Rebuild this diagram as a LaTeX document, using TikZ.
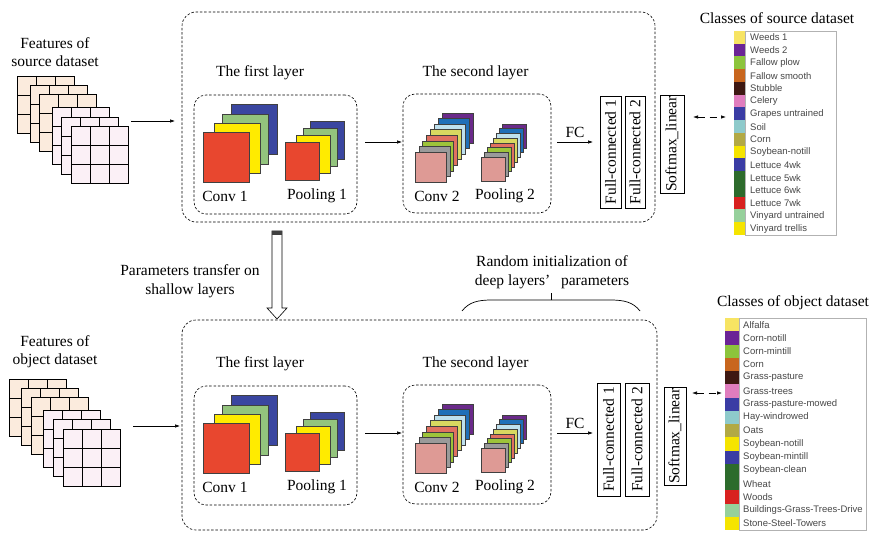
\documentclass[tikz,border=0pt]{standalone}
\usepackage{fontspec}
\setmainfont{Liberation Serif}
\newfontfamily\legfont{Liberation Sans}
\usetikzlibrary{arrows.meta}
\definecolor{cRed}{HTML}{E8472F}
\definecolor{cYellow}{HTML}{FFEB00}
\definecolor{cGreen}{HTML}{93C47D}
\definecolor{cBlue}{HTML}{3A46A0}
\definecolor{cPurple}{HTML}{6A2A8A}
\definecolor{cBlueB}{HTML}{1F6FB8}
\definecolor{cLBlue}{HTML}{BEE0EE}
\definecolor{cKhaki}{HTML}{D8D860}
\definecolor{cSalmon}{HTML}{E07060}
\definecolor{cYG}{HTML}{9DC43A}
\definecolor{cGray}{HTML}{9A9A9A}
\definecolor{cPink}{HTML}{DE9A95}
\definecolor{gPeach}{HTML}{FBEBDD}
\definecolor{gPink}{HTML}{FBF0F6}
\definecolor{lY}{HTML}{F7E463}
\definecolor{lPurple}{HTML}{6B2496}
\definecolor{lYG}{HTML}{8CC43C}
\definecolor{lOrange}{HTML}{C8661E}
\definecolor{lBrown}{HTML}{3E1812}
\definecolor{lPink}{HTML}{E07DBE}
\definecolor{lBlue}{HTML}{3A3CA4}
\definecolor{lTeal}{HTML}{8ECACB}
\definecolor{lOlive}{HTML}{B2A944}
\definecolor{lYellow}{HTML}{F5E400}
\definecolor{lGreen}{HTML}{2D6B2C}
\definecolor{lRed}{HTML}{D8211F}
\definecolor{lLGreen}{HTML}{96D09B}
\tikzset{
  lbl/.style={inner sep=0pt, font=\fontsize{15.5}{17}\selectfont},
  outerbox/.style={draw, dash pattern=on 2.5pt off 1.8pt, rounded corners=14pt, line width=0.6pt, inner sep=0pt},
  innerbox/.style={draw, dash pattern=on 2.5pt off 1.8pt, rounded corners=12pt, line width=0.6pt, inner sep=0pt},
  fcbox/.style={draw, line width=0.8pt, rotate=90, inner sep=0pt, font=\fontsize{15.5}{17}\selectfont},
  arr/.style={-{Latex[length=5pt,width=3.5pt]}, line width=0.6pt},
  darr/.style={{Latex[length=5pt,width=3.5pt]}-{Latex[length=5pt,width=3.5pt]}, dash pattern=on 7pt off 5pt, line width=0.7pt},
  sq/.style={draw=black!75, line width=0.6pt},
  gridsq/.style={draw, line width=0.8pt},
  legtext/.style={inner sep=0pt, anchor=west, text=black!72, font=\legfont\fontsize{9.5}{10}\selectfont},
  legbox/.style={draw=black!30, line width=0.6pt, inner sep=0pt}
}
\newcommand\layerset[1]{%
  % first layer
  \node[innerbox, minimum width=163pt, minimum height=119pt] (l1#1) at (275.5,154.5) {};
  \node[lbl] (t1#1) at (260,73) {The first layer};
  \foreach \c/\px/\py in {cBlue/231/104, cGreen/222/114, cYellow/214/123, cRed/203/132}
    {\filldraw[sq, fill=\c] (\px,\py) rectangle +(46,50);}
  \foreach \c/\px/\py in {cBlue/310/121, cGreen/303/128, cYellow/296/135, cRed/285/142}
    {\filldraw[sq, fill=\c] (\px,\py) rectangle +(34,38);}
  \node[lbl] (c1#1) at (225,196) {Conv 1};
  \node[lbl] (p1#1) at (317,196) {Pooling 1};
  % second layer
  \node[innerbox, minimum width=148pt, minimum height=119pt] (l2#1) at (477,153.5) {};
  \node[lbl] (t2#1) at (475.5,73) {The second layer};
  \foreach \c [count=\i from 0] in {cPurple, cBlueB, cLBlue, cKhaki, cSalmon, cYG, cGray, cPink}
    {\filldraw[sq, fill=\c] ({442-\i*3.86},{113+\i*5.57}) rectangle +(31,30);}
  \foreach \c [count=\i from 0] in {cPurple, cBlueB, cLBlue, cKhaki, cSalmon, cYG, cGray, cPink}
    {\filldraw[sq, fill=\c] ({502-\i*3},{124+\i*4.71}) rectangle +(24,24);}
  \node[lbl] (c2#1) at (437,196) {Conv 2};
  \node[lbl] (p2#1) at (505,196) {Pooling 2};
  \coordinate (m1#1) at (365,142);
  \coordinate (m2#1) at (402,142);
  \draw[arr] (m1#1) -- (m2#1);
  \node[lbl] (fc#1) at (575,132) {FC};
  \coordinate (f1#1) at (557,142);
  \coordinate (f2#1) at (593,142);
  \draw[arr] (f1#1) -- (f2#1);
}
\begin{document}
\begin{tikzpicture}[x=1pt,y=-1pt]
\useasboundingbox[fill=white] (0,0) rectangle (874,534);

% ---------- source branch ----------
\node[lbl, align=center] (fsrc) at (55,52) {Features of\\[1pt]source dataset};
\foreach \px/\py/\c in {17/76/gPeach, 30/85/gPeach, 39/94/gPeach, 52/107/gPink, 61/117/gPink, 71/126/gPink}
{
  \filldraw[gridsq, fill=\c] (\px,\py) rectangle +(57,57);
  \draw[line width=0.8pt] ({\px+19},\py) -- +(0,57) ({\px+38},\py) -- +(0,57)
        (\px,{\py+19}) -- +(57,0) (\px,{\py+38}) -- +(57,0);
}
\coordinate (sa) at (131,121);
\coordinate (sb) at (175,121);
\draw[arr] (sa) -- (sb);

\node[outerbox, minimum width=473pt, minimum height=210pt] (srcbox) at (418.5,117) {};
\layerset{s}
\node[fcbox, minimum width=112pt, minimum height=21pt] (fc1s) at (610.5,152) {Full-connected 1};
\node[fcbox, minimum width=112pt, minimum height=20pt] (fc2s) at (635,152) {Full-connected 2};
\node[fcbox, minimum width=98pt, minimum height=24pt] (sms) at (672,144) {Softmax\_linear};

% source legend
\node[lbl] (lts) at (777,18) {Classes of source dataset};
\node[legbox, minimum width=91pt, minimum height=204pt] (legs) at (790.5,133) {};
\foreach \name/\c [count=\i] in {Weeds 1/lY, Weeds 2/lPurple, Fallow plow/lYG, Fallow smooth/lOrange,
  Stubble/lBrown, Celery/lPink, Grapes untrained/lBlue, Soil/lTeal, Corn/lOlive, Soybean-notill/lYellow,
  Lettuce 4wk/lBlue, Lettuce 5wk/lGreen, Lettuce 6wk/lGreen, Lettuce 7wk/lRed, Vinyard untrained/lLGreen,
  Vinyard trellis/lYellow}
{
  \fill[\c] (734,{31+(\i-1)*12.75}) rectangle +(11,12.8);
  \node[legtext] (s\i) at (750,{31+(\i-0.5)*12.75}) {\name};
}
\coordinate (ds1) at (693,117);
\coordinate (ds2) at (726,117);
\draw[darr] (ds1) -- (ds2);

% ---------- transfer ----------
\coordinate (tr) at (277,231);
\filldraw[fill=white, draw=black, line width=0.6pt] (272,231) -- (282,231) -- (282,308) -- (287,308)
   -- (277,319) -- (267,308) -- (272,308) -- cycle;
\fill[black!75] (tr) ++(-5,0) rectangle +(10,4.5);
\node[lbl, align=center] (trl) at (190,281) {Parameters transfer on\\[2pt]shallow layers};

% brace
\node[lbl, align=center] (rnd) at (552,272) {Random initialization of\\[2pt]deep layers’\hspace{0.7em}parameters};
\draw[line width=0.7pt] (462,311) .. controls (469,302) and (478,300) .. (492,300) -- (610,300)
   .. controls (624,300) and (633,302) .. (640,311);
\draw[line width=0.7pt] (551,300) -- (551,293);

% ---------- object branch ----------
\node[lbl, align=center] (fobj) at (55,352) {Features of\\[1pt]object dataset};
\foreach \px/\py/\c in {9/379/gPeach, 21/388/gPeach, 31/397/gPeach, 43/410/gPink, 53/419/gPink, 63/429/gPink}
{
  \filldraw[gridsq, fill=\c] (\px,\py) rectangle +(57,57);
  \draw[line width=0.8pt] ({\px+19},\py) -- +(0,57) ({\px+38},\py) -- +(0,57)
        (\px,{\py+19}) -- +(57,0) (\px,{\py+38}) -- +(57,0);
}
\coordinate (oa) at (133,426);
\coordinate (ob) at (180,426);
\draw[arr] (oa) -- (ob);

\node[outerbox, minimum width=475pt, minimum height=210pt] (objbox) at (419.5,425) {};
\begin{scope}[yshift=-291pt]
\layerset{o}
\end{scope}
\node[fcbox, minimum width=113pt, minimum height=23pt] (fc1o) at (608.5,439.5) {Full-connected 1};
\node[fcbox, minimum width=113pt, minimum height=24pt] (fc2o) at (637,439.5) {Full-connected 2};
\node[fcbox, minimum width=98pt, minimum height=22pt] (smo) at (675,436) {Softmax\_linear};

% object legend
\node[lbl] (lto) at (793,303) {Classes of object dataset};
\node[legbox, minimum width=127pt, minimum height=212pt] (lego) at (802.5,424) {};
\foreach \name/\c [count=\i] in {Alfalfa/lY, Corn-notill/lPurple, Corn-mintill/lYG, Corn/lOrange,
  Grass-pasture/lBrown, Grass-trees/lPink, Grass-pasture-mowed/lBlue, Hay-windrowed/lTeal, Oats/lOlive,
  Soybean-notill/lYellow, Soybean-mintill/lBlue, Soybean-clean/lGreen, Wheat/lGreen, Woods/lRed,
  Buildings-Grass-Trees-Drive/lLGreen, Stone-Steel-Towers/lYellow}
{
  \fill[\c] (725,{318+(\i-1)*13.25}) rectangle +(14,13.3);
  \node[legtext] (o\i) at (743,{318+(\i-0.5)*13.25}) {\name};
}
\coordinate (do1) at (692,393);
\coordinate (do2) at (722,393);
\draw[darr] (do1) -- (do2);
\end{tikzpicture}
\end{document}
